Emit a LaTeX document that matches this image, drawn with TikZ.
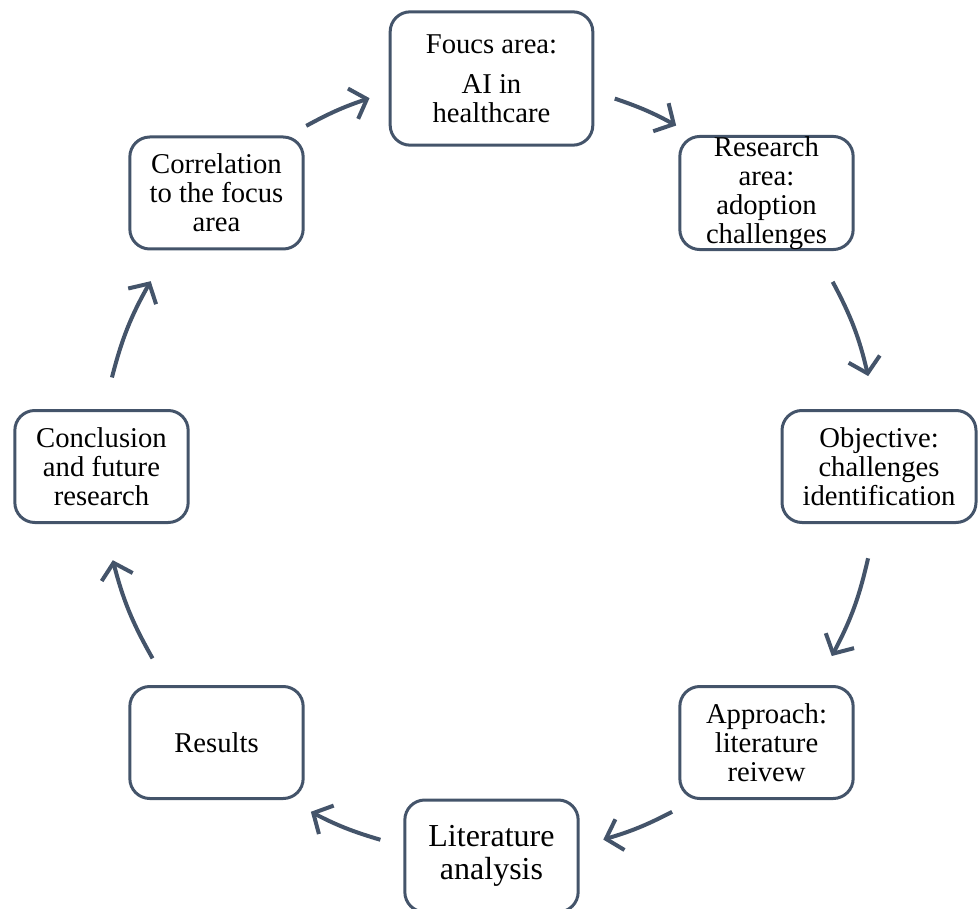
\documentclass[tikz,border=0pt]{standalone}
\usepackage{fontspec}
\setmainfont{Liberation Serif}
\usepackage{tikz}
\usetikzlibrary{arrows.meta,calc}
\definecolor{slate}{HTML}{44546A}

\begin{document}
\begin{tikzpicture}[x=0.75pt,y=-0.75pt,
	stage/.style={shape=rectangle,rounded corners=15pt,draw=slate,line width=2.25pt,
		align=center,inner sep=0pt,minimum width=130pt,minimum height=84pt,
		font=\fontsize{21.5}{21.75}\selectfont},
	flow/.style={draw=slate,line width=3pt,-{Straight Barb[length=11pt,width=24pt]}}]
	\useasboundingbox (0,0) rectangle (978,909);
	\coordinate (ring) at (491.5, 467);
	\node[stage,minimum width=152pt,minimum height=100pt] (focus) at (491.5, 78.5) {Foucs area:\\[8pt]AI in\\healthcare};
	\node[stage] (research) at (766.5, 193) {Research\\area:\\adoption\\challenges};
	\node[stage,minimum width=145.5pt] (objective) at (879, 466.5) {Objective:\\challenges\\identification};
	\node[stage] (approach) at (766.5, 742.5) {Approach:\\literature\\reivew};
	\node[stage,font=\fontsize{24}{24.75}\selectfont] (analysis) at (491.5, 856) {Literature\\analysis};
	\node[stage] (results) at (216.5, 742.5) {Results};
	\node[stage] (conclusion) at (101.5, 466.5) {Conclusion\\and future\\research};
	\node[stage] (correlation) at (216.5, 193) {Correlation\\to the focus\\area};
	\draw[flow] ($(ring)!1!-16.6:(correlation)$) to[bend left=5] ($(ring)!1!18.3:(focus)$);
	\draw[flow] ($(ring)!1!-18.5:(focus)$) to[bend left=5] ($(ring)!1!16.7:(research)$);
	\draw[flow] ($(ring)!1!-16.4:(research)$) to[bend left=7.5] ($(ring)!1!13.5:(objective)$);
	\draw[flow] ($(ring)!1!-13.7:(objective)$) to[bend left=7.5] ($(ring)!1!16:(approach)$);
	\draw[flow] ($(ring)!1!-17.3:(approach)$) to[bend left=5.5] ($(ring)!1!16.7:(analysis)$);
	\draw[flow] ($(ring)!1!-16.6:(analysis)$) to[bend left=5.5] ($(ring)!1!17.3:(results)$);
	\draw[flow] ($(ring)!1!-15.6:(results)$) to[bend left=7.5] ($(ring)!1!13.9:(conclusion)$);
	\draw[flow] ($(ring)!1!-13.2:(conclusion)$) to[bend left=7.5] ($(ring)!1!16.3:(correlation)$);
\end{tikzpicture}
\end{document}
